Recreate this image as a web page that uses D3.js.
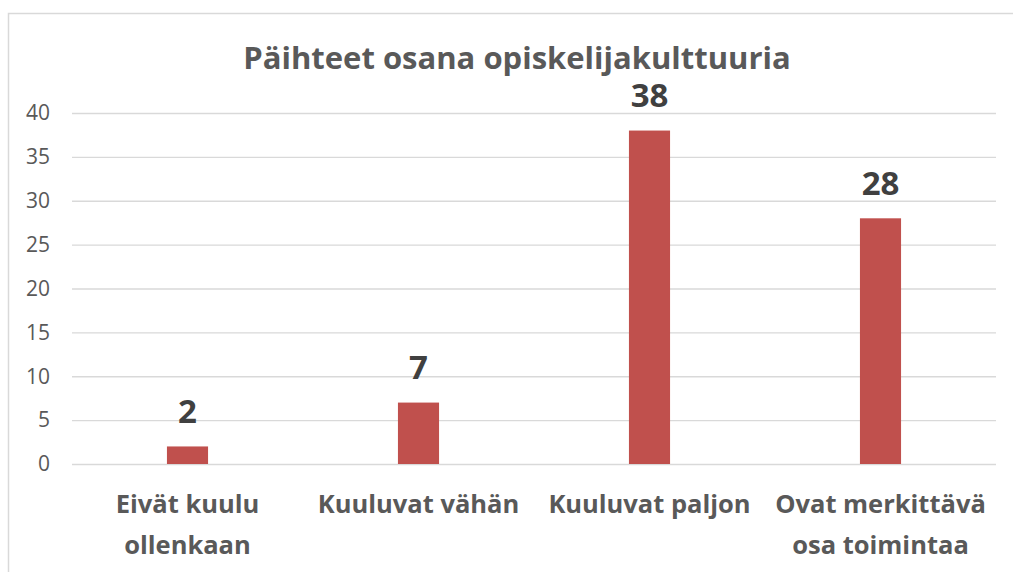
<!DOCTYPE html>
<html>
<head>
<meta charset="utf-8">
<script src="https://cdn.jsdelivr.net/npm/d3@7"></script>
<style>
  body { margin: 0; background: #fff; }
  svg { font-family: "Open Sans", "Noto Sans", sans-serif; }
</style>
</head>
<body>
<svg id="chart"></svg>
<script>
// chart data
const categories = [["Eivät kuulu", "ollenkaan"], ["Kuuluvat vähän"], ["Kuuluvat paljon"], ["Ovat merkittävä", "osa toimintaa"]];
const values = [2, 7, 38, 28];
const yTicks = [0, 5, 10, 15, 20, 25, 30, 35, 40];
const title = "Päihteet osana opiskelijakulttuuria";

const width = 1013, height = 572;
const svg = d3.select("#chart").attr("width", width).attr("height", height);

// outer frame of the chart
svg.append("rect")
  .attr("x", 8.5).attr("y", 13.5)
  .attr("width", 1020).attr("height", 600)
  .attr("fill", "none").attr("stroke", "#d9d9d9").attr("stroke-width", 1.5);

const plotLeft = 72, plotRight = 996, plotTop = 113, plotBottom = 464;

const x = d3.scaleBand()
  .domain(d3.range(categories.length))
  .range([plotLeft, plotRight])
  .paddingInner(0.822).paddingOuter(0.411);

const y = d3.scaleLinear().domain([0, 40]).range([plotBottom, plotTop]);

// gridlines
svg.append("g").selectAll("line")
  .data(yTicks)
  .join("line")
  .attr("x1", plotLeft).attr("x2", plotRight)
  .attr("y1", d => y(d) + 0.5).attr("y2", d => y(d) + 0.5)
  .attr("stroke", "#d9d9d9").attr("stroke-width", 1.3);

// y tick labels
svg.append("g").selectAll("text")
  .data(yTicks)
  .join("text")
  .attr("x", 50).attr("y", d => y(d))
  .attr("dy", "0.35em")
  .attr("text-anchor", "end")
  .attr("font-size", 21)
  .attr("fill", "#595959")
  .text(d => d);

// bars
svg.append("g").selectAll("rect")
  .data(values)
  .join("rect")
  .attr("x", (d, i) => x(i))
  .attr("y", d => y(d))
  .attr("width", x.bandwidth())
  .attr("height", d => plotBottom - y(d))
  .attr("fill", "#c0504d");

// data labels
svg.append("g").selectAll("text")
  .data(values)
  .join("text")
  .attr("x", (d, i) => x(i) + x.bandwidth() / 2)
  .attr("y", d => y(d) - 35)
  .attr("dy", "0.35em")
  .attr("text-anchor", "middle")
  .attr("font-size", 33).attr("font-weight", "bold")
  .attr("fill", "#404040")
  .text(d => d);

// category labels (wrapped)
const catG = svg.append("g").selectAll("text")
  .data(categories)
  .join("text")
  .attr("text-anchor", "middle")
  .attr("font-size", 25.5).attr("font-weight", "bold")
  .attr("fill", "#595959");
catG.selectAll("tspan")
  .data((d, i) => d.map(s => ({ s, i })))
  .join("tspan")
  .attr("x", d => x(d.i) + x.bandwidth() / 2)
  .attr("y", (d, j) => 504 + j * 41)
  .attr("dy", "0.35em")
  .text(d => d.s);

// title
svg.append("text")
  .attr("x", 517).attr("y", 58)
  .attr("dy", "0.35em")
  .attr("text-anchor", "middle")
  .attr("font-size", 31).attr("font-weight", "bold")
  .attr("fill", "#595959")
  .text(title);
</script>
</body>
</html>
